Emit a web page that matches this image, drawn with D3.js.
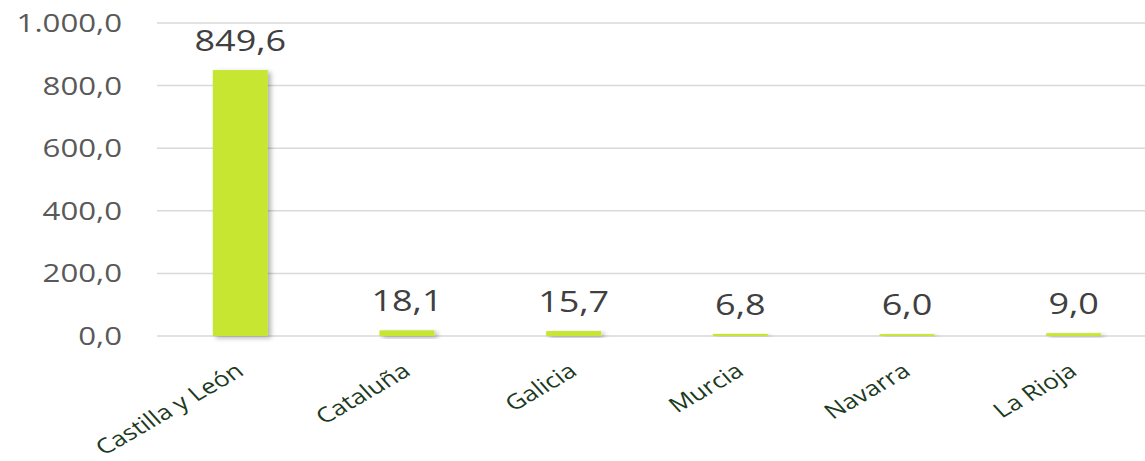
<!DOCTYPE html>
<html><head><meta charset="utf-8">
<script src="https://cdn.jsdelivr.net/npm/d3@7"></script>
<style>html,body{margin:0;padding:0;background:#fff;}svg{display:block;}</style>
</head><body>
<svg id="chart" width="1145" height="461"></svg>
<script>
const categories = ["Castilla y León","Cataluña","Galicia","Murcia","Navarra","La Rioja"];
const values = [849.6, 18.1, 15.7, 6.8, 6.0, 9.0];
const tickValues = [0,200,400,600,800,1000];

const svg = d3.select("#chart");
const fmt = v => d3.format(",.1f")(v).replace(/,/g,"#").replace(".",",").replace(/#/g,".");

const x = d3.scaleBand().domain(categories).range([157,1157]).paddingInner(0.67).paddingOuter(0.335);
const y = d3.scaleLinear().domain([0,1000]).range([336,23]);

const defs = svg.append("defs");
const f = defs.append("filter").attr("id","sh").attr("x","-20%").attr("y","-20%").attr("width","160%").attr("height","160%");
f.append("feDropShadow").attr("dx",3).attr("dy",2).attr("stdDeviation",2.5).attr("flood-color","#000").attr("flood-opacity",0.3);

// gridlines
svg.append("g").selectAll("line").data(tickValues).join("line")
  .attr("x1",157).attr("x2",1145)
  .attr("y1",d=>y(d)).attr("y2",d=>y(d))
  .attr("stroke","#d9d9d9").attr("stroke-width",1.5);

// y tick labels
svg.append("g").selectAll("text").data(tickValues).join("text")
  .attr("transform",d=>`translate(122,${y(d)+9}) scale(1.2,1)`)
  .attr("text-anchor","end")
  .attr("font-family","'Open Sans', sans-serif").attr("font-size",26)
  .attr("fill","#595959").text(d=>fmt(d));

// bars
svg.append("g").selectAll("rect").data(values).join("rect")
  .attr("x",(d,i)=>x(categories[i]))
  .attr("width",x.bandwidth())
  .attr("y",d=>y(d))
  .attr("height",d=>Math.max(y(0)-y(d),0))
  .attr("fill","#c6e633")
  .attr("filter","url(#sh)");

// value labels
svg.append("g").selectAll("text").data(values).join("text")
  .attr("transform",(d,i)=>`translate(${x(categories[i])+x.bandwidth()/2},${y(d)-19}) scale(1.2,1)`)
  .attr("text-anchor","middle")
  .attr("font-family","'Open Sans', sans-serif").attr("font-size",30)
  .attr("fill","#404040").text(d=>fmt(d));

// category labels
svg.append("g").selectAll("text").data(categories).join("text")
  .attr("transform",d=>`translate(${x(d)+x.bandwidth()/2+5},${374}) scale(1.25,1) rotate(-36)`)
  .attr("text-anchor","end")
  .attr("font-family","'Open Sans', sans-serif").attr("font-size",21)
  .attr("fill","#1c3a1e").text(d=>d);
</script>
</body></html>
